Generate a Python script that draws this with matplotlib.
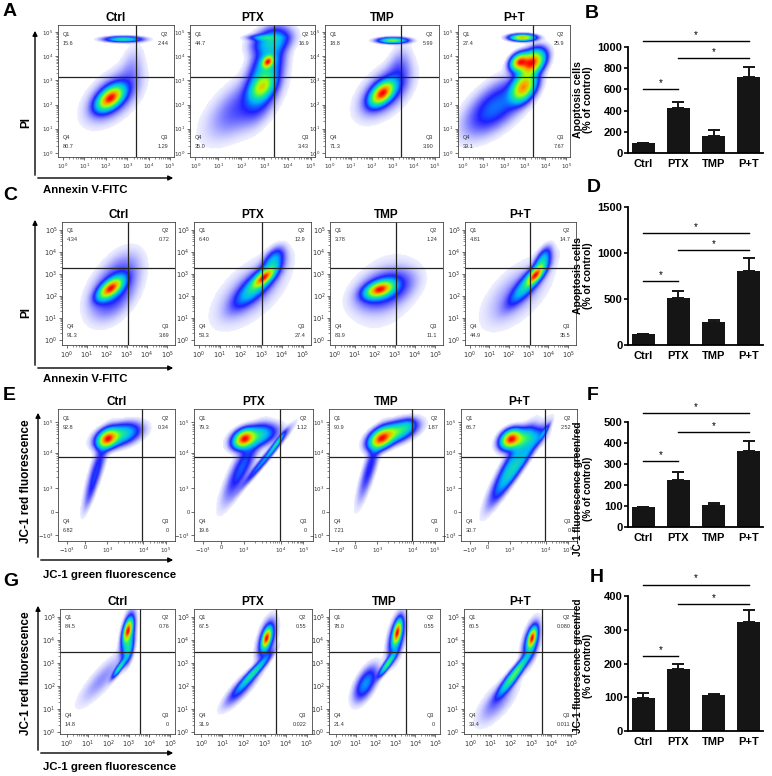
import numpy as np
import matplotlib
matplotlib.use("Agg")
import matplotlib.pyplot as plt
from matplotlib.colors import LinearSegmentedColormap
from matplotlib.patches import FancyArrowPatch

plt.rcParams['font.family'] = ['Liberation Sans', 'DejaVu Sans']

W, H = 772, 776
groups = ['Ctrl', 'PTX', 'TMP', 'P+T']

# ---- quadrant percentages (Q1, Q2, Q3, Q4) as printed on the plots ----
quad_A = [['15.6', '2.44', '1.29', '80.7'], ['44.7', '16.9', '3.43', '35.0'],
          ['18.8', '5.99', '3.90', '71.3'], ['27.4', '25.9', '7.67', '39.1']]
quad_C = [['4.34', '0.72', '3.69', '91.3'], ['6.40', '12.9', '27.4', '53.3'],
          ['3.78', '1.24', '11.1', '83.9'], ['4.81', '14.7', '35.5', '44.9']]
quad_E = [['92.8', '0.34', '0', '6.82'], ['79.3', '1.12', '0', '19.6'],
          ['90.9', '1.87', '0', '7.21'], ['66.7', '2.52', '0', '30.7']]
quad_G = [['84.5', '0.76', '0', '14.8'], ['67.5', '0.55', '0.022', '31.9'],
          ['78.0', '0.55', '0', '21.4'], ['60.5', '0.080', '0.011', '39.4']]

# ---- population clusters: (cx, cy, sx, sy, rho, weight) ----
clus_A = [
    [(2.2, 2.25, 0.35, 0.28, 0.5, 1.0), (2.3, 2.3, 0.7, 0.6, 0.5, 0.12),
     (2.8, 4.68, 0.5, 0.07, 0.0, 0.35), (3.2, 3.5, 0.35, 0.6, 0.3, 0.03)],
    [(3.15, 3.75, 0.15, 0.15, 0.3, 0.9), (3.05, 3.3, 0.45, 0.9, 0.5, 0.3),
     (2.9, 2.7, 0.3, 0.3, 0.4, 0.45), (2.0, 1.9, 0.9, 0.8, 0.6, 0.08),
     (3.3, 4.6, 0.5, 0.3, 0.3, 0.2), (3.0, 4.75, 0.4, 0.07, 0.0, 0.2)],
    [(2.5, 2.45, 0.33, 0.28, 0.5, 1.0), (2.6, 2.5, 0.7, 0.6, 0.5, 0.12),
     (3.0, 4.63, 0.4, 0.07, 0.0, 0.5), (3.3, 3.4, 0.35, 0.6, 0.3, 0.05)],
    [(2.9, 4.75, 0.35, 0.08, 0.0, 0.5), (3.35, 3.7, 0.35, 0.3, 0.4, 0.7),
     (2.75, 3.75, 0.25, 0.2, 0.3, 0.6), (2.95, 2.7, 0.35, 0.35, 0.4, 0.55),
     (1.6, 1.9, 0.9, 0.7, 0.6, 0.1)],
]
clus_C = [
    [(2.2, 2.35, 0.35, 0.28, 0.6, 1.0), (2.3, 2.2, 0.7, 0.75, 0.4, 0.12),
     (2.9, 3.3, 0.6, 0.6, 0.3, 0.03)],
    [(3.15, 2.85, 0.3, 0.25, 0.7, 1.0), (2.8, 2.5, 0.6, 0.55, 0.8, 0.35),
     (2.5, 2.2, 1.0, 0.9, 0.6, 0.07), (3.6, 3.6, 0.3, 0.35, 0.5, 0.25)],
    [(2.25, 2.3, 0.4, 0.22, 0.4, 1.0), (2.5, 2.3, 0.8, 0.5, 0.4, 0.15),
     (2.5, 2.2, 1.0, 1.0, 0.3, 0.03)],
    [(3.35, 2.95, 0.25, 0.25, 0.7, 1.0), (3.0, 2.6, 0.55, 0.55, 0.85, 0.35),
     (2.4, 2.1, 1.0, 0.9, 0.6, 0.06), (3.7, 3.6, 0.25, 0.35, 0.6, 0.3)],
]
clus_E = [
    [(42, 77, 5, 4, 0.3, 1.0), (52, 80, 10, 5, 0.4, 0.4),
     (33, 55, 6, 15, 0.85, 0.12), (28, 38, 4, 10, 0.85, 0.05)],
    [(42, 77, 5, 4, 0.3, 1.0), (52, 79, 10, 5, 0.4, 0.35),
     (40, 55, 9, 15, 0.85, 0.15), (60, 62, 11, 12, 0.98, 0.2),
     (70, 74, 4, 5, 0.95, 0.25)],
    [(45, 77, 6, 4.5, 0.4, 1.0), (57, 82, 10, 5, 0.5, 0.5),
     (35, 55, 6, 15, 0.85, 0.12), (68, 87, 4, 3, 0.3, 0.1)],
    [(43, 77, 5, 4, 0.3, 1.0), (53, 77, 9, 5, 0.4, 0.35),
     (42, 55, 10, 15, 0.9, 0.25), (52, 60, 11, 14, 0.95, 0.2),
     (72, 82, 3, 4, 0.9, 0.15)],
]
clus_G = [
    [(2.96, 4.43, 0.13, 0.28, 0.5, 1.0), (2.95, 4.2, 0.2, 0.55, 0.5, 0.3),
     (2.55, 2.8, 0.2, 0.25, 0.9, 0.4), (1.7, 2.3, 0.7, 0.7, 0.85, 0.05),
     (3.0, 3.6, 0.15, 0.35, 0.5, 0.25)],
    [(3.1, 4.1, 0.13, 0.25, 0.5, 1.0), (3.1, 4.0, 0.25, 0.5, 0.5, 0.25),
     (2.5, 2.6, 0.45, 0.45, 0.95, 0.35), (1.9, 1.9, 0.5, 0.5, 0.85, 0.12)],
    [(3.1, 4.35, 0.13, 0.3, 0.5, 1.0), (3.05, 4.1, 0.25, 0.55, 0.5, 0.25),
     (2.6, 2.95, 0.25, 0.3, 0.9, 0.45), (1.5, 2.1, 0.35, 0.45, 0.6, 0.2)],
    [(3.06, 4.1, 0.13, 0.25, 0.5, 1.0), (3.0, 3.9, 0.25, 0.5, 0.5, 0.25),
     (2.0, 2.3, 0.4, 0.45, 0.9, 0.4), (2.5, 2.9, 0.3, 0.35, 0.9, 0.25),
     (1.3, 1.3, 0.6, 0.6, 0.7, 0.06)],
]

# ---- bar chart data (% of control, mean and upper error) ----
bar_B = [95, 425, 160, 720]
err_B = [0, 55, 55, 95]
bar_D = [115, 515, 250, 800]
err_D = [10, 75, 25, 150]
bar_F = [97, 225, 103, 360]
err_F = [0, 35, 10, 50]
bar_H = [97, 183, 107, 322]
err_H = [17, 15, 3, 38]
sig_B = [(0, 3, 1057), (1, 3, 896), (0, 1, 604)]
sig_D = [(0, 3, 1217), (1, 3, 1033), (0, 1, 696)]
sig_F = [(0, 3, 543), (1, 3, 452), (0, 1, 314)]
sig_H = [(0, 3, 433), (1, 3, 376), (0, 1, 222)]

cmap = LinearSegmentedColormap.from_list('flow', [
    (0.0, (0.80, 0.80, 1.0, 0.35)), (0.18, (0.55, 0.55, 1.0, 0.8)),
    (0.38, (0.12, 0.12, 1.0, 1.0)), (0.55, (0.0, 0.7, 1.0, 1.0)),
    (0.7, (0.1, 0.93, 0.55, 1.0)), (0.82, (0.7, 1.0, 0.0, 1.0)),
    (0.92, (1.0, 0.62, 0.0, 1.0)), (1.0, (1.0, 0.0, 0.0, 1.0))])
cmap.set_bad((1, 1, 1, 0))

fig = plt.figure(figsize=(W / 100, H / 100), dpi=100)


def px_axes(x0, y0, x1, y1):
    return fig.add_axes([x0 / W, 1 - y1 / H, (x1 - x0) / W, (y1 - y0) / H])


def density(clusters, xr, yr, n=140):
    xs = np.linspace(xr[0], xr[1], n)
    ys = np.linspace(yr[0], yr[1], n)
    X, Y = np.meshgrid(xs, ys)
    d = np.zeros_like(X)
    for cx, cy, sx, sy, rho, w in clusters:
        u = (X - cx) / sx
        v = (Y - cy) / sy
        q = (u * u - 2 * rho * u * v + v * v) / (1 - rho ** 2)
        d += w * np.exp(-0.5 * q)
    d /= d.max()
    L = 2.2
    val = (np.log10(d + 1e-12) + L) / L
    val = np.ma.masked_less(val, 0.0)
    return val ** 1.5


def log_ticks(ax, axis):
    major = [0, 1, 2, 3, 4, 5]
    minor = [n + np.log10(k) for n in range(5) for k in range(2, 10)]
    labels = ['$10^{%d}$' % m for m in major]
    if axis == 'x':
        ax.set_xticks(major)
        ax.set_xticklabels(labels)
        ax.set_xticks(minor, minor=True)
    else:
        ax.set_yticks(major)
        ax.set_yticklabels(labels)
        ax.set_yticks(minor, minor=True)


def flow_panel(box, title, clusters, quads, xr, yr, gx, gy, kind, tsize):
    ax = px_axes(*box)
    img = density(clusters, xr, yr)
    ax.imshow(img, extent=[xr[0], xr[1], yr[0], yr[1]], origin='lower',
              cmap=cmap, vmin=0, vmax=1, aspect='auto', interpolation='bilinear')
    ax.set_xlim(xr)
    ax.set_ylim(yr)
    ax.axvline(gx, color='#222222', lw=0.9)
    ax.axhline(gy, color='#222222', lw=0.9)
    if kind == 'log':
        log_ticks(ax, 'x')
        log_ticks(ax, 'y')
    else:
        xt = [7.7, 23, 42, 73, 92]
        yt = [4.5, 22, 40, 67, 90]
        lab = ['$-10^{3}$', '0', '$10^{3}$', '$10^{4}$', '$10^{5}$']
        ax.set_xticks(xt)
        ax.set_xticklabels(lab)
        ax.set_yticks(yt)
        ax.set_yticklabels(lab)
        mx = [xt[n] + np.log10(k) * (xt[n + 1] - xt[n]) for n in (2, 3) for k in range(2, 10)]
        my = [yt[n] + np.log10(k) * (yt[n + 1] - yt[n]) for n in (2, 3) for k in range(2, 10)]
        ax.set_xticks(mx, minor=True)
        ax.set_yticks(my, minor=True)
    ax.tick_params(which='major', labelsize=tsize, length=2.0, width=0.5, pad=1.2, colors='#333333')
    ax.tick_params(which='minor', length=1.2, width=0.4, colors='#333333')
    for s in ax.spines.values():
        s.set_linewidth(0.6)
        s.set_color('#444444')
    ax.set_title(title, fontsize=8.5, fontweight='bold', pad=3)
    q1, q2, q3, q4 = quads
    kw = dict(transform=ax.transAxes, fontsize=4.0, color='#333333', va='center')
    ax.text(0.04, 0.93, 'Q1', **kw)
    ax.text(0.04, 0.86, q1, **kw)
    ax.text(0.95, 0.93, 'Q2', ha='right', **kw)
    ax.text(0.95, 0.86, q2, ha='right', **kw)
    ax.text(0.04, 0.15, 'Q4', **kw)
    ax.text(0.04, 0.08, q4, **kw)
    ax.text(0.95, 0.15, 'Q3', ha='right', **kw)
    ax.text(0.95, 0.08, q3, ha='right', **kw)
    return ax


rows = [
    dict(y=(25, 157), xs=[(58, 174), (190, 315), (325, 439), (458, 570)], ts=4.0,
         clus=clus_A, quad=quad_A, xr=(-0.23, 5.19), yr=(-0.17, 5.29), gx=3.4, gy=3.14, kind='log'),
    dict(y=(222, 345), xs=[(62, 175), (194, 311), (330, 443), (465, 576)], ts=4.8,
         clus=clus_C, quad=quad_C, xr=(-0.23, 5.4), yr=(-0.23, 5.36), gx=3.05, gy=3.27, kind='log'),
    dict(y=(409, 541), xs=[(58, 175), (194, 313), (329, 444), (461, 577)], ts=4.0,
         clus=clus_E, quad=quad_E, xr=(0, 100), yr=(0, 100), gx=72, gy=64, kind='bi'),
    dict(y=(609, 734), xs=[(60, 175), (194, 312), (329, 440), (464, 576)], ts=4.8,
         clus=clus_G, quad=quad_G, xr=(-0.34, 5.24), yr=(-0.09, 5.35), gx=3.54, gy=3.48, kind='log'),
]

for r in rows:
    for i, (x0, x1) in enumerate(r['xs']):
        flow_panel((x0, r['y'][0], x1, r['y'][1]), groups[i], r['clus'][i], r['quad'][i],
                   r['xr'], r['yr'], r['gx'], r['gy'], r['kind'], r['ts'])


def fig_arrow(x0, y0, x1, y1):
    a = FancyArrowPatch((x0 / W, 1 - y0 / H), (x1 / W, 1 - y1 / H), transform=fig.transFigure,
                        arrowstyle='-|>', mutation_scale=7, lw=1.0, color='black')
    fig.add_artist(a)


def fig_txt(x, y, s, **kw):
    fig.text(x / W, 1 - y / H, s, **kw)


# axis arrows and labels of the flow rows
arrow_rows = [(35, 28, 178, 'PI', 123, 'Annexin V-FITC', 190),
              (35, 217, 368, 'PI', 312, 'Annexin V-FITC', 379),
              (38, 410, 560, 'JC-1 red fluorescence', 481, 'JC-1 green fluorescence', 575),
              (38, 603, 753, 'JC-1 red fluorescence', 673, 'JC-1 green fluorescence', 767)]
for ax_x, top, bot, ylab, ylab_y, xlab, xlab_y in arrow_rows:
    fig_arrow(ax_x, bot, ax_x, top)
    fig_arrow(ax_x, bot, 176, bot)
    fig_txt(26, ylab_y, ylab, rotation=90, ha='center', va='center', fontsize=8.5, fontweight='bold')
    fig_txt(43, xlab_y, xlab, ha='left', va='center', fontsize=8.2, fontweight='bold')

for letter, x, y in [('A', 3, 12), ('C', 3, 195), ('E', 3, 396), ('G', 3, 582),
                     ('B', 585, 13), ('D', 587, 188), ('F', 587, 396), ('H', 590, 578)]:
    fig_txt(x, y, letter, ha='left', va='center', fontsize=14, fontweight='bold')


def bar_panel(y0, y1, vals, errs, sig, ymax, step, ylabel, label_y=0.5, label_size=7.5):
    ax = px_axes(628, y0, 763, y1)
    x = np.arange(len(groups))
    ax.bar(x, vals, width=0.66, color='#151515', zorder=2)
    ax.errorbar(x, vals, yerr=[np.zeros(len(errs)), errs], fmt='none', ecolor='#151515',
                elinewidth=1.4, capsize=4, capthick=1.4, zorder=1)
    ax.set_xlim(-0.44, 3.41)
    ax.set_ylim(0, ymax)
    ax.set_yticks(np.arange(0, ymax + 1, step))
    ax.set_xticks(x)
    ax.set_xticklabels(groups)
    ax.tick_params(axis='x', length=0, pad=4)
    ax.tick_params(axis='y', length=3, width=1.2, pad=1)
    for lab in ax.get_xticklabels() + ax.get_yticklabels():
        lab.set_fontweight('bold')
        lab.set_fontsize(8)
    for s in ['top', 'right']:
        ax.spines[s].set_visible(False)
    for s in ['left', 'bottom']:
        ax.spines[s].set_linewidth(1.3)
    for i, j, yv in sig:
        ax.plot([i, j], [yv, yv], color='black', lw=1.0, clip_on=False)
        ax.text((i + j) / 2, yv + ymax * 0.01, '*', ha='center', va='bottom', fontsize=7, clip_on=False)
    ax.set_ylabel(ylabel, fontsize=label_size, fontweight='bold', linespacing=1.0)
    ax.yaxis.set_label_coords(-0.26, label_y)
    return ax


bar_panel(47, 153, bar_B, err_B, sig_B, 1000, 200, 'Apoptosis cells\n(% of control)')
bar_panel(207, 345, bar_D, err_D, sig_D, 1500, 500, 'Apoptosis cells\n(% of control)')
bar_panel(422, 527, bar_F, err_F, sig_F, 500, 100, 'JC-1 fluorescence green/red\n(% of control)',
          label_y=0.36, label_size=7.2)
bar_panel(596, 731, bar_H, err_H, sig_H, 400, 100, 'JC-1 fluorescence green/red\n(% of control)',
          label_y=0.48, label_size=7.2)

fig.savefig('out.png', dpi=100)
